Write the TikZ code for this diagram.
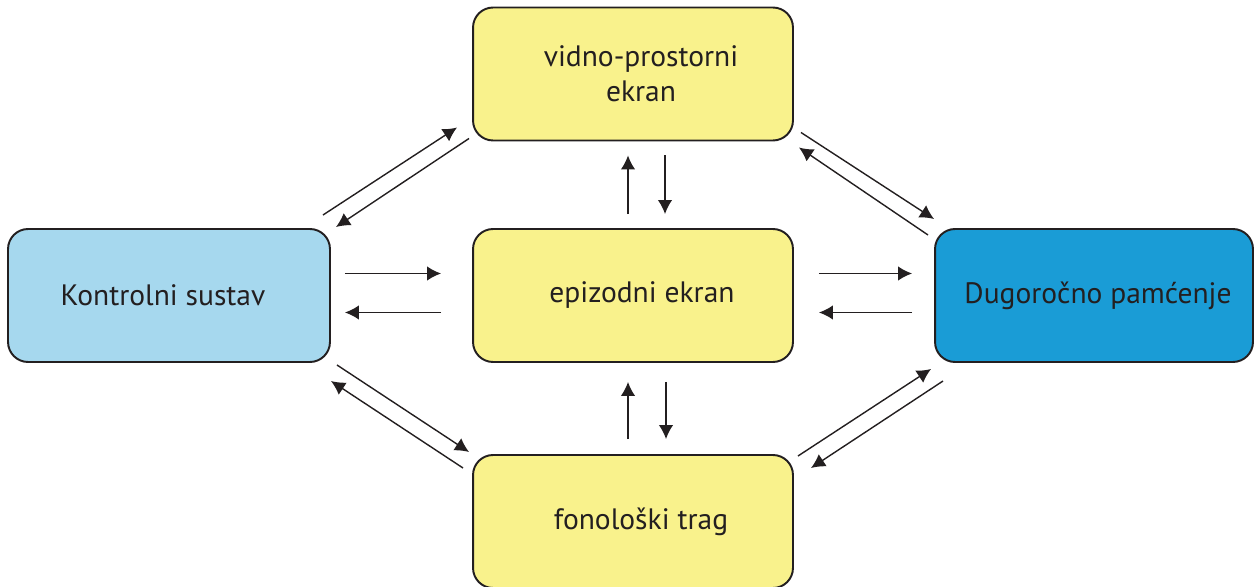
\documentclass[tikz,border=0pt]{standalone}
\usepackage{fontspec}
\setmainfont{PT Sans}
\usetikzlibrary{arrows.meta}
\definecolor{boxyellow}{RGB}{249,242,140}
\definecolor{boxlightblue}{RGB}{166,216,238}
\definecolor{boxblue}{RGB}{26,156,214}
\definecolor{ink}{RGB}{35,31,32}
\begin{document}
\begin{tikzpicture}[x=0.02cm,y=-0.02cm,
  box/.style={draw=ink, line width=1.1pt, rounded corners=0.4cm, outer sep=0pt, inner sep=0pt,
    minimum width=6.4cm, minimum height=2.66cm, align=center, text=ink,
    font=\fontsize{16.8}{20}\selectfont},
  flow/.style={draw=ink, line width=0.8pt, -{Latex[length=2.8mm,width=2.9mm]}}
]
\useasboundingbox (0,0) rectangle (1254,587);
\node[box, fill=boxyellow] (V) at (633,74) {\hspace*{0.32cm}vidno-prostorni\\\hspace*{0.32cm}ekran};
\node[box, fill=boxyellow] (E) at (633,295.5) {\hspace*{0.36cm}epizodni ekran};
\node[box, fill=boxyellow] (F) at (633,521.5) {\hspace*{0.32cm}fonološki trag};
\node[box, fill=boxlightblue, minimum width=6.44cm] (K) at (169,295.5) {Kontrolni sustav\hspace*{0.24cm}};
\node[box, fill=boxblue, minimum width=6.36cm] (D) at (1094,295.5) {\hspace*{0.16cm}Dugoročno pamćenje};
% horizontal
\draw[flow] ([shift={(15,-22)}]K.east) -- ([shift={(-32,-22)}]E.west);
\draw[flow] ([shift={(-32,17)}]E.west) -- ([shift={(15,17)}]K.east);
\draw[flow] ([shift={(26,-22)}]E.east) -- ([shift={(-23,-22)}]D.west);
\draw[flow] ([shift={(-23,17)}]D.west) -- ([shift={(26,17)}]E.east);
% vertical
\draw[flow] ([shift={(-5,-15)}]E.north) -- ([shift={(-5,15)}]V.south);
\draw[flow] ([shift={(32,15)}]V.south) -- ([shift={(32,-15)}]E.north);
\draw[flow] ([shift={(-5,-16)}]F.north) -- ([shift={(-5,20)}]E.south);
\draw[flow] ([shift={(33,20)}]E.south) -- ([shift={(33,-16)}]F.north);
% diagonals top-left
\draw[flow] ([shift={(-7,-14)}]K.north east) -- ([shift={(-16,-13)}]V.south west);
\draw[flow] ([shift={(-4,-2)}]V.south west) -- ([shift={(6,-2)}]K.north east);
% top-right
\draw[flow] ([shift={(8,-8)}]V.south east) -- ([shift={(-1,-10)}]D.north west);
\draw[flow] ([shift={(-7,6)}]D.north west) -- ([shift={(6,7)}]V.south east);
% bottom-right
\draw[flow] ([shift={(5,1)}]F.north east) -- ([shift={(-4,7)}]D.south west);
\draw[flow] ([shift={(8,19)}]D.south west) -- ([shift={(18,13)}]F.north east);
% bottom-left
\draw[flow] ([shift={(7,3)}]K.south east) -- ([shift={(-4,-3)}]F.north west);
\draw[flow] ([shift={(-10,13)}]F.north west) -- ([shift={(1,19)}]K.south east);
\end{tikzpicture}
\end{document}
